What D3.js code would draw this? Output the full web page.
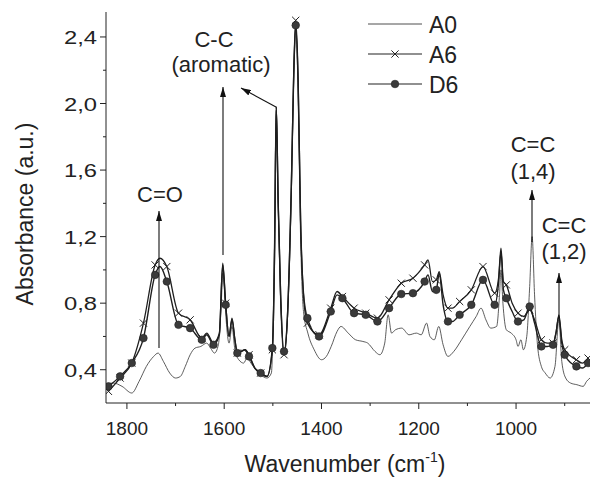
<!DOCTYPE html>
<html>
<head>
<meta charset="utf-8">
<script src="https://cdn.jsdelivr.net/npm/d3@7"></script>
<style>
  html, body { margin: 0; padding: 0; background: #fff; }
  svg { display: block; font-family: "Liberation Sans", Arial, sans-serif; }
</style>
</head>
<body>
<svg id="chart" width="590" height="483"></svg>
<script>
// wavenumbers where Origin drew the symbols for A6 and D6
const markWn = [1838, 1814, 1790, 1766, 1742, 1718, 1694, 1670, 1646, 1622, 1597, 1573, 1549, 1525,
  1501, 1477, 1453, 1429, 1405, 1381, 1357, 1333, 1309, 1285, 1261, 1236, 1212, 1188, 1164, 1140,
  1116, 1092, 1068, 1044, 1020, 996, 972, 948, 924, 900, 876, 852];
const a6Mark = [0.27, 0.35, 0.44, 0.68, 1.03, 1.02, 0.74, 0.70, 0.59, 0.56, 0.80, 0.50, 0.49, 0.38,
  0.52, 0.49, 2.50, 0.68, 0.61, 0.77, 0.84, 0.77, 0.74, 0.71, 0.82, 0.92, 0.95, 1.03, 0.94, 0.77,
  0.81, 0.88, 1.02, 0.86, 0.91, 0.74, 0.76, 0.58, 0.56, 0.52, 0.46, 0.47];
const d6Mark = [0.30, 0.36, 0.44, 0.59, 0.97, 0.93, 0.67, 0.65, 0.58, 0.55, 0.79, 0.50, 0.48, 0.38,
  0.53, 0.51, 2.47, 0.71, 0.60, 0.75, 0.83, 0.74, 0.73, 0.69, 0.77, 0.855, 0.86, 0.93, 0.88, 0.69,
  0.73, 0.79, 0.94, 0.79, 0.83, 0.69, 0.78, 0.54, 0.55, 0.49, 0.42, 0.44];

// extra line points between the symbols (peaks and dips)
const extraWn = [1732, 1636, 1610, 1603, 1590, 1584, 1578, 1557, 1537, 1512, 1496, 1493, 1489, 1484,
  1470, 1462, 1457, 1448, 1443, 1437, 1368, 1181, 1172, 1158, 1150, 1131, 1036, 1031, 1026, 1008,
  984, 962, 936, 918, 912, 906, 864];
const a6Extra = [1.07, 0.62, 0.62, 1.04, 0.60, 0.71, 0.58, 0.52, 0.41, 0.36, 1.2, 1.98, 1.4, 0.85,
  0.72, 1.5, 2.2, 2.15, 1.3, 0.85, 0.87, 1.06, 0.93, 0.99, 0.85, 0.77, 0.95, 1.13, 0.93, 0.80,
  0.72, 0.70, 0.56, 0.62, 0.73, 0.58, 0.44];
const d6Extra = [1.02, 0.61, 0.61, 1.03, 0.60, 0.70, 0.58, 0.52, 0.41, 0.36, 1.2, 1.98, 1.4, 0.85,
  0.72, 1.5, 2.18, 2.12, 1.3, 0.86, 0.85, 0.97, 0.87, 0.98, 0.79, 0.69, 0.92, 1.11, 0.88, 0.75,
  0.70, 0.68, 0.54, 0.62, 0.72, 0.56, 0.41];

// A0, plain line
const a0Wn = [1845, 1828, 1810, 1790, 1775, 1760, 1745, 1736, 1725, 1712, 1700, 1690, 1680, 1670,
  1660, 1648, 1636, 1628, 1620, 1612, 1606, 1603, 1600, 1596, 1590, 1584, 1578, 1570, 1560, 1553,
  1545, 1535, 1525, 1512, 1503, 1498, 1493, 1489, 1484, 1477, 1470, 1462, 1457, 1453, 1448, 1443,
  1437, 1428, 1415, 1400, 1390, 1380, 1368, 1360, 1345, 1330, 1315, 1305, 1290, 1280, 1270, 1263,
  1256, 1248, 1235, 1220, 1205, 1195, 1184, 1177, 1168, 1159, 1150, 1140, 1128, 1112, 1095, 1082,
  1072, 1062, 1052, 1040, 1034, 1031, 1027, 1020, 1010, 1000, 996, 990, 985, 978, 972, 967, 962,
  956, 948, 940, 930, 920, 912, 906, 898, 888, 875, 862, 855, 848];
const a0Abs = [0.31, 0.32, 0.30, 0.26, 0.33, 0.42, 0.48, 0.50, 0.45, 0.38, 0.35, 0.36, 0.42, 0.49,
  0.53, 0.54, 0.56, 0.53, 0.50, 0.55, 0.80, 0.98, 0.90, 0.70, 0.56, 0.66, 0.52, 0.46, 0.44, 0.47,
  0.44, 0.40, 0.37, 0.35, 0.38, 0.9, 1.96, 1.4, 0.8, 0.49, 0.7, 1.45, 2.15, 2.45, 2.05, 1.2,
  0.75, 0.62, 0.52, 0.46, 0.48, 0.54, 0.63, 0.66, 0.62, 0.58, 0.57, 0.56, 0.51, 0.49, 0.56, 0.73,
  0.62, 0.64, 0.65, 0.61, 0.62, 0.61, 0.68, 0.60, 0.58, 0.66, 0.55, 0.48, 0.51, 0.58, 0.66, 0.72,
  0.77, 0.70, 0.65, 0.66, 0.85, 1.0, 0.8, 0.64, 0.62, 0.58, 0.54, 0.58, 0.52, 0.6, 0.9, 1.2, 0.85,
  0.55, 0.42, 0.38, 0.35, 0.42, 0.70, 0.45, 0.35, 0.32, 0.31, 0.30, 0.33, 0.35];

const yTicks = [0.4, 0.8, 1.2, 1.6, 2.0, 2.4];
const yMinor = [0.6, 1.0, 1.4, 1.8, 2.2];
const xTicks = [1800, 1600, 1400, 1200, 1000];
const xMinor = [1700, 1500, 1300, 1100, 900];

const svg = d3.select("#chart");
const plotLeft = 106, plotRight = 590, plotTop = 12, plotBottom = 403;

const x = d3.scaleLinear().domain([1843, 848]).range([plotLeft, plotRight]);
const y = d3.scaleLinear().domain([0.2, 2.55]).range([plotBottom, plotTop]);

const fmt = d3.formatLocale({ decimal: ",", thousands: ".", grouping: [3], currency: ["", ""] }).format(".1f");

function merge(wnA, vA, wnB, vB) {
  const pts = wnA.map((w, i) => ({ wn: w, v: vA[i], mark: true }))
    .concat(wnB.map((w, i) => ({ wn: w, v: vB[i], mark: false })));
  return pts.sort((a, b) => b.wn - a.wn);
}

const a0 = a0Wn.map((w, i) => ({ wn: w, v: a0Abs[i] }));
const a6 = merge(markWn, a6Mark, extraWn, a6Extra);
const d6 = merge(markWn, d6Mark, extraWn, d6Extra);

const line = d3.line()
  .x(d => x(d.wn))
  .y(d => y(d.v))
  .curve(d3.curveMonotoneX);

const defs = svg.append("defs");
defs.append("clipPath").attr("id", "clip")
  .append("rect").attr("x", plotLeft).attr("y", 0)
  .attr("width", plotRight - plotLeft).attr("height", plotBottom);

const plot = svg.append("g").attr("clip-path", "url(#clip)");

plot.append("path").datum(a0)
  .attr("d", line).attr("fill", "none").attr("stroke", "#333").attr("stroke-width", 0.8);
plot.append("path").datum(a6)
  .attr("d", line).attr("fill", "none").attr("stroke", "#1e1e1e").attr("stroke-width", 1.3);
plot.append("path").datum(d6)
  .attr("d", line).attr("fill", "none").attr("stroke", "#1e1e1e").attr("stroke-width", 1.4);

function cross(g, cx, cy) {
  const s = 3.6;
  g.append("path")
    .attr("d", `M${cx - s},${cy - s}L${cx + s},${cy + s}M${cx - s},${cy + s}L${cx + s},${cy - s}`)
    .attr("stroke", "#222").attr("stroke-width", 1);
}

function dot(g, cx, cy) {
  g.append("circle").attr("cx", cx).attr("cy", cy).attr("r", 3.8)
    .attr("fill", "#3a3a3a").attr("stroke", "#222").attr("stroke-width", 0.6);
}

a6.filter(d => d.mark).forEach(d => cross(plot, x(d.wn), y(d.v)));
d6.filter(d => d.mark).forEach(d => dot(plot, x(d.wn), y(d.v)));

// axes
const axes = svg.append("g").attr("stroke", "#222").attr("stroke-width", 1);
axes.append("line").attr("x1", plotLeft).attr("x2", plotLeft).attr("y1", plotTop).attr("y2", plotBottom);
axes.append("line").attr("x1", plotLeft).attr("x2", plotRight).attr("y1", plotBottom).attr("y2", plotBottom);

axes.selectAll(".ymaj").data(yTicks).enter().append("line")
  .attr("x1", plotLeft - 6).attr("x2", plotLeft).attr("y1", d => y(d)).attr("y2", d => y(d));
axes.selectAll(".ymin").data(yMinor).enter().append("line")
  .attr("x1", plotLeft - 3).attr("x2", plotLeft).attr("y1", d => y(d)).attr("y2", d => y(d));
axes.selectAll(".xmaj").data(xTicks).enter().append("line")
  .attr("x1", d => x(d)).attr("x2", d => x(d)).attr("y1", plotBottom).attr("y2", plotBottom + 6);
axes.selectAll(".xmin").data(xMinor).enter().append("line")
  .attr("x1", d => x(d)).attr("x2", d => x(d)).attr("y1", plotBottom).attr("y2", plotBottom + 3);

// y labels in the reference are drawn a little wider than the x labels
svg.selectAll(".ylab").data(yTicks).enter().append("text")
  .attr("transform", d => `translate(${plotLeft - 9},${y(d) + 7}) scale(1.25,1)`)
  .attr("text-anchor", "end").attr("font-size", 19).attr("fill", "#222")
  .text(d => fmt(d));

svg.selectAll(".xlab").data(xTicks).enter().append("text")
  .attr("x", d => x(d)).attr("y", plotBottom + 32)
  .attr("text-anchor", "middle").attr("font-size", 19).attr("fill", "#222")
  .text(d => d);

svg.append("text")
  .attr("transform", `translate(33,214) rotate(-90)`)
  .attr("text-anchor", "middle").attr("font-size", 23).attr("fill", "#222")
  .text("Absorbance (a.u.)");

const xt = svg.append("text")
  .attr("x", 345).attr("y", 472)
  .attr("text-anchor", "middle").attr("font-size", 23).attr("fill", "#222");
xt.append("tspan").text("Wavenumber (cm");
xt.append("tspan").attr("font-size", 14).attr("dy", -10).text("-1");
xt.append("tspan").attr("dy", 10).text(")");

// legend
const legendNames = ["A0", "A6", "D6"];
const lg = svg.append("g");
legendNames.forEach((name, i) => {
  const ly = 24 + i * 30;
  lg.append("line").attr("x1", 368).attr("x2", 422).attr("y1", ly).attr("y2", ly)
    .attr("stroke", "#222").attr("stroke-width", i === 0 ? 0.8 : 1.2);
  if (i === 1) cross(lg, 395, ly);
  if (i === 2) dot(lg, 395, ly);
  lg.append("text").attr("x", 429).attr("y", ly + 8.5)
    .attr("font-size", 23).attr("fill", "#222").text(name);
});

// annotations
defs.append("marker")
  .attr("id", "head").attr("viewBox", "0 0 10 6").attr("refX", 10).attr("refY", 3)
  .attr("markerWidth", 10).attr("markerHeight", 6).attr("markerUnits", "userSpaceOnUse")
  .attr("orient", "auto")
  .append("path").attr("d", "M0,0L10,3L0,6Z").attr("fill", "#111");

const arrows = [
  [159, 348, 159, 211],
  [223, 255, 223, 87],
  [276, 107, 241, 88],
  [532, 242, 532, 190],
  [559, 318, 559, 273]
];
svg.selectAll(".arrow").data(arrows).enter().append("line")
  .attr("x1", d => d[0]).attr("y1", d => d[1]).attr("x2", d => d[2]).attr("y2", d => d[3])
  .attr("stroke", "#111").attr("stroke-width", 1.1).attr("marker-end", "url(#head)");

const notes = [
  ["C=O", 160, 202],
  ["C-C", 214, 47],
  ["(aromatic)", 221, 72],
  ["C=C", 533, 152],
  ["(1,4)", 533, 179],
  ["C=C", 564, 233],
  ["(1,2)", 564, 259]
];
svg.selectAll(".note").data(notes).enter().append("text")
  .attr("x", d => d[1]).attr("y", d => d[2])
  .attr("text-anchor", "middle").attr("font-size", 22).attr("fill", "#222")
  .text(d => d[0]);
</script>
</body>
</html>
